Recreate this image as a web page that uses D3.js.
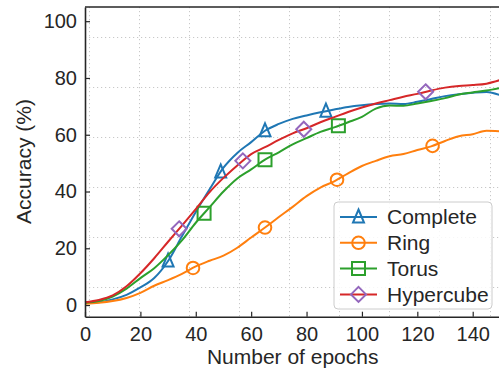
<!DOCTYPE html>
<html>
<head>
<meta charset="utf-8">
<script src="https://cdn.jsdelivr.net/npm/d3@7"></script>
<style>
  body { margin: 0; background: #ffffff; }
</style>
</head>
<body>
<div id="chart"></div>
<script>
/* Accuracy (%) for each topology, read every 5 epochs.
** Markers sit on the curve at the epochs listed in the *Markers arrays.
*/
var epochs = [0, 5, 10, 15, 20, 25, 30, 35, 40, 45, 50, 55, 60, 65, 70, 75,
              80, 85, 90, 95, 100, 105, 110, 115, 120, 125, 130, 135, 140, 145, 150];

var complete = [0.8, 1.0, 2.0, 3.6, 6.2, 9.5, 15.5, 24.2, 32.8, 40.8, 48.4, 53.6, 57.4, 61.4, 63.8, 65.6,
                66.8, 67.9, 68.9, 69.8, 70.4, 70.8, 71.0, 70.8, 71.6, 72.6, 73.6, 74.3, 74.8, 75.1, 73.9];
var ring = [0.5, 0.8, 1.4, 2.5, 4.3, 6.8, 8.8, 11.0, 13.6, 15.6, 17.4, 20.2, 23.8, 27.3, 31.0, 34.6,
            38.4, 41.4, 43.6, 46.4, 49.0, 50.8, 52.4, 53.2, 54.6, 55.9, 57.8, 59.5, 60.2, 61.4, 61.2];
var torus = [0.8, 1.4, 3.0, 5.8, 9.5, 13.0, 17.6, 22.8, 29.0, 34.5, 40.0, 44.6, 47.8, 51.2, 53.8, 56.6,
             58.8, 61.0, 62.6, 64.4, 66.3, 69.2, 70.3, 70.2, 71.0, 71.9, 72.9, 74.2, 74.9, 75.6, 76.5];
var hypercube = [1.0, 1.8, 3.4, 6.6, 11.2, 16.5, 22.3, 28.0, 33.8, 39.8, 44.8, 49.2, 53.2, 55.6, 58.2, 60.5,
                 62.3, 64.4, 66.2, 68.0, 69.6, 71.0, 72.2, 73.4, 74.4, 75.6, 76.6, 77.2, 77.5, 78.0, 79.3];

var completeMarkers = [30, 49, 65, 87];
var ringMarkers = [39, 65, 91, 125.5];
var torusMarkers = [43, 65, 91.5];
var hypercubeMarkers = [34, 57, 79, 123];

var seriesNames = ['Complete', 'Ring', 'Torus', 'Hypercube'];

var xTicks = [0, 20, 40, 60, 80, 100, 120, 140];
var yTicks = [0, 20, 40, 60, 80, 100];

// the dotted grid of the original does not line up with the ticks
var gridX = [1.3, 19.4, 37.5, 55.6, 73.7, 91.8, 109.9, 128, 146.1];
var gridY = [94.5, 76.9, 59.3, 41.6, 24.0, 6.3];

var config = {
    colors: {
        Complete: '#1f77b4',
        Ring: '#ff7f0e',
        Torus: '#2ca02c',
        Hypercube: '#d62728',
        axis: '#262626',
        grid: '#c8c8c8',
        text: '#262626'
    },
    markerColors: {
        Complete: '#1f77b4',
        Ring: '#ff7f0e',
        Torus: '#2ca02c',
        Hypercube: '#9467bd'
    },
    markers: {
        Complete: 'triangle',
        Ring: 'circle',
        Torus: 'square',
        Hypercube: 'diamond'
    },
    fontFamily: '"Liberation Sans", Arial, Helvetica, sans-serif',
    fontSize: 20,
    labelSize: 21,
    lineWidth: 2,
    svg: { width: 499, height: 370 },
    plot: { left: 85, right: 500.4, top: 7, bottom: 316.7 }
};

// marker outlines centred on 0,0
function markerPath(type) {
    if (type == 'triangle') return 'M0,-7.5L5.5,5.5L-5.5,5.5Z';
    if (type == 'square') return 'M-6.5,-6.5L6.5,-6.5L6.5,6.5L-6.5,6.5Z';
    if (type == 'diamond') return 'M0,-7.5L7.5,0L0,7.5L-7.5,0Z';
    return 'M6.3,0A6.3,6.3 0 1,1 -6.3,0A6.3,6.3 0 1,1 6.3,0Z';
}

// linear read of a series at any epoch, for placing the markers
function valueAt(values, e) {
    var i = d3.bisectLeft(epochs, e);
    if (i <= 0) return values[0];
    if (i >= epochs.length) return values[values.length - 1];
    var t = (e - epochs[i - 1]) / (epochs[i] - epochs[i - 1]);
    return values[i - 1] + t * (values[i] - values[i - 1]);
}

function draw(div) {
    var series = [
        { name: 'Complete', values: complete, marks: completeMarkers },
        { name: 'Ring', values: ring, marks: ringMarkers },
        { name: 'Torus', values: torus, marks: torusMarkers },
        { name: 'Hypercube', values: hypercube, marks: hypercubeMarkers }
    ];

    var p = config.plot;
    var x = d3.scaleLinear().domain([0, 150]).range([p.left, p.right]);
    var y = d3.scaleLinear().domain([-4.1, 105]).range([p.bottom, p.top]);

    var svg = d3.select(div).append('svg')
        .attr('width', config.svg.width)
        .attr('height', config.svg.height)
        .style('font-family', config.fontFamily);

    svg.append('rect')
        .attr('width', config.svg.width)
        .attr('height', config.svg.height)
        .attr('fill', '#ffffff');

    // dotted grid
    var grid = svg.append('g').attr('stroke', config.colors.grid)
        .attr('stroke-width', 1).attr('stroke-dasharray', '1.2,2.8');
    grid.selectAll('.gx').data(gridX).enter().append('line')
        .attr('x1', function (d) { return Math.round(x(d)) + 0.5; })
        .attr('x2', function (d) { return Math.round(x(d)) + 0.5; })
        .attr('y1', p.top)
        .attr('y2', p.bottom);
    grid.selectAll('.gy').data(gridY).enter().append('line')
        .attr('x1', p.left)
        .attr('x2', p.right)
        .attr('y1', function (d) { return Math.round(y(d)) + 0.5; })
        .attr('y2', function (d) { return Math.round(y(d)) + 0.5; });

    // curves, then their markers
    var line = d3.line()
        .x(function (d, i) { return x(epochs[i]); })
        .y(function (d) { return y(d); })
        .curve(d3.curveMonotoneX);

    series.forEach(function (s) {
        var g = svg.append('g');
        g.append('path')
            .attr('d', line(s.values))
            .attr('fill', 'none')
            .attr('stroke', config.colors[s.name])
            .attr('stroke-width', config.lineWidth)
            .attr('stroke-linejoin', 'round');
        g.selectAll('.mark').data(s.marks).enter().append('path')
            .attr('d', markerPath(config.markers[s.name]))
            .attr('transform', function (e) {
                return 'translate(' + x(e) + ',' + y(valueAt(s.values, e)) + ')';
            })
            .attr('fill', 'none')
            .attr('stroke', config.markerColors[s.name])
            .attr('stroke-width', 2);
    });

    // axes with inward ticks
    var xAxis = svg.append('g')
        .attr('transform', 'translate(0,' + p.bottom + ')')
        .call(d3.axisBottom(x).tickValues(xTicks).tickSizeInner(-5).tickSizeOuter(0).tickPadding(10));
    var yAxis = svg.append('g')
        .attr('transform', 'translate(' + p.left + ',0)')
        .call(d3.axisLeft(y).tickValues(yTicks).tickSizeInner(-5).tickSizeOuter(0).tickPadding(8));

    [xAxis, yAxis].forEach(function (a) {
        a.select('.domain').attr('stroke', config.colors.axis).attr('stroke-width', 1.6);
        a.selectAll('.tick line').attr('stroke', config.colors.axis).attr('stroke-width', 1.2);
        a.selectAll('.tick text')
            .attr('fill', config.colors.text)
            .style('font-size', config.fontSize + 'px')
            .style('font-family', config.fontFamily);
    });

    // top spine
    svg.append('line')
        .attr('x1', p.left).attr('x2', p.right)
        .attr('y1', p.top).attr('y2', p.top)
        .attr('stroke', config.colors.axis)
        .attr('stroke-width', 1.6);

    // axis titles
    svg.append('text')
        .attr('x', (p.left + p.right) / 2)
        .attr('y', 364)
        .attr('text-anchor', 'middle')
        .attr('fill', config.colors.text)
        .style('font-size', config.labelSize + 'px')
        .text('Number of epochs');

    svg.append('text')
        .attr('transform', 'translate(31,161.5) rotate(-90)')
        .attr('text-anchor', 'middle')
        .attr('fill', config.colors.text)
        .style('font-size', config.labelSize + 'px')
        .text('Accuracy (%)');

    // legend
    var legend = svg.append('g');
    legend.append('rect')
        .attr('x', 334).attr('y', 202)
        .attr('width', 158).attr('height', 107)
        .attr('rx', 4)
        .attr('fill', '#ffffff').attr('fill-opacity', 0.85)
        .attr('stroke', '#cccccc').attr('stroke-width', 1);

    var items = legend.selectAll('.item')
        .data(seriesNames)
        .enter().append('g')
        .attr('transform', function (d, i) { return 'translate(340,' + (217 + i * 25.8) + ')'; });

    items.append('line')
        .attr('x1', 0).attr('x2', 37)
        .attr('stroke', function (d) { return config.colors[d]; })
        .attr('stroke-width', config.lineWidth);
    items.append('path')
        .attr('d', function (d) { return markerPath(config.markers[d]); })
        .attr('transform', 'translate(18.5,0)')
        .attr('fill', 'none')
        .attr('stroke', function (d) { return config.markerColors[d]; })
        .attr('stroke-width', 2);
    items.append('text')
        .attr('x', 47)
        .attr('dy', '0.35em')
        .attr('fill', config.colors.text)
        .style('font-size', config.labelSize + 'px')
        .text(function (d) { return d; });
}

draw('#chart');
</script>
</body>
</html>
